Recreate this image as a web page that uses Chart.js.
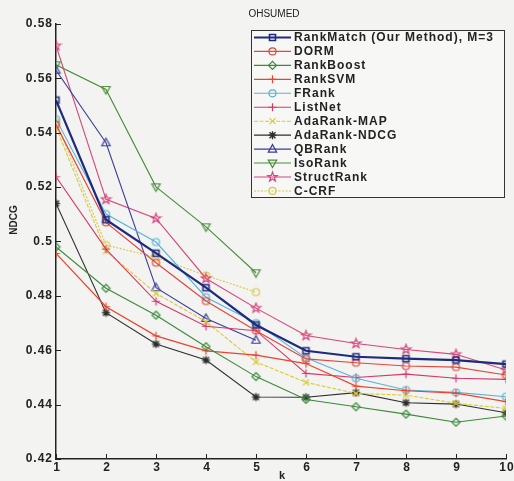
<!DOCTYPE html>
<html><head><meta charset="utf-8">
<script src="https://cdn.jsdelivr.net/npm/chart.js@4/dist/chart.umd.min.js"></script>
<style>html,body{margin:0;padding:0;background:#f3f3f1;}#wrap{width:514px;height:481px;}</style>
</head><body><div id="wrap"><canvas id="c" width="514" height="481"></canvas></div>
<script>
// ---- data ----
const kValues = [1, 2, 3, 4, 5, 6, 7, 8, 9, 10];
const yTickValues = [0.42, 0.44, 0.46, 0.48, 0.5, 0.52, 0.54, 0.56, 0.58];
const chartTitle = 'OHSUMED';
const xTitle = 'k';
const yTitle = 'NDCG';

const rankMatch   = [0.552, 0.508, 0.4957, 0.483, 0.4693, 0.4598, 0.4576, 0.4569, 0.4564, 0.4549];
const dorm        = [0.543, 0.507, 0.4922, 0.4781, 0.4672, 0.4568, 0.4554, 0.4542, 0.4538, 0.4509];
const rankBoost   = [0.498, 0.4828, 0.4729, 0.4613, 0.4503, 0.4419, 0.4392, 0.4365, 0.4335, 0.4358];
const rankSVM     = [0.4956, 0.476, 0.4653, 0.4598, 0.4582, 0.4551, 0.4468, 0.4451, 0.4442, 0.4411];
const fRank       = [0.545, 0.5101, 0.4998, 0.4795, 0.470, 0.4572, 0.4497, 0.4454, 0.4445, 0.4429];
const listNet     = [0.5238, 0.4972, 0.478, 0.4688, 0.4672, 0.4515, 0.4500, 0.4512, 0.4497, 0.4493];
const adaRankMAP  = [0.542, 0.4965, 0.4809, 0.4705, 0.4557, 0.4482, 0.4441, 0.4435, 0.4405, 0.4386];
const adaRankNDCG = [0.514, 0.4738, 0.4623, 0.4564, 0.4428, 0.4427, 0.4444, 0.4407, 0.4402, 0.437];
const qbRank      = [0.563, 0.5363, 0.483, 0.4717, 0.4637];
const isoRank     = [0.565, 0.5559, 0.5201, 0.5054, 0.4885];
const structRank  = [0.572, 0.5155, 0.5085, 0.4864, 0.4755, 0.4654, 0.4625, 0.4603, 0.4585, 0.4527];
const cCRF        = [0.544, 0.4987, 0.4942, 0.4875, 0.4814];

const seriesLabels = ['RankMatch (Our Method), M=3', 'DORM', 'RankBoost', 'RankSVM', 'FRank', 'ListNet',
  'AdaRank-MAP', 'AdaRank-NDCG', 'QBRank', 'IsoRank', 'StructRank', 'C-CRF'];
const seriesValues = [rankMatch, dorm, rankBoost, rankSVM, fRank, listNet, adaRankMAP, adaRankNDCG, qbRank, isoRank, structRank, cCRF];

// ---- styles ----
const seriesStyle = [
  {color: '#1e2a7c', marker: 'square', width: 2.2, dash: []},
  {color: '#e2463c', marker: 'circle', width: 1.2, dash: []},
  {color: '#3a8a3a', marker: 'diamond', width: 1.1, dash: []},
  {color: '#e8452e', marker: 'plus', width: 1.2, dash: []},
  {color: '#5ab2d8', marker: 'circle', width: 1.1, dash: []},
  {color: '#d6396c', marker: 'plus', width: 1.1, dash: []},
  {color: '#d9cb3a', marker: 'x', width: 1.1, dash: [4, 1.5]},
  {color: '#2e2e2e', marker: 'asterisk', width: 1.1, dash: []},
  {color: '#3b3d9c', marker: 'triUp', width: 1.1, dash: []},
  {color: '#4a8c3a', marker: 'triDown', width: 1.1, dash: []},
  {color: '#d8447c', marker: 'pentagram', width: 1.1, dash: []},
  {color: '#d8c83e', marker: 'circle', width: 1.1, dash: [2, 1.5]}
];

function drawMarker(ctx, type, x, y, color) {
  ctx.save();
  ctx.strokeStyle = color; ctx.lineWidth = 1.2; ctx.setLineDash([]);
  ctx.beginPath();
  const r = 3.5;
  switch (type) {
    case 'square': ctx.lineWidth = 1.6; ctx.rect(x - 3, y - 3, 6, 6); break;
    case 'circle': ctx.arc(x, y, r, 0, Math.PI * 2); break;
    case 'diamond': ctx.moveTo(x, y - 4); ctx.lineTo(x + 4, y); ctx.lineTo(x, y + 4); ctx.lineTo(x - 4, y); ctx.closePath(); break;
    case 'plus': ctx.moveTo(x - 4, y); ctx.lineTo(x + 4, y); ctx.moveTo(x, y - 4); ctx.lineTo(x, y + 4); break;
    case 'x': ctx.moveTo(x - 3, y - 3); ctx.lineTo(x + 3, y + 3); ctx.moveTo(x + 3, y - 3); ctx.lineTo(x - 3, y + 3); break;
    case 'asterisk':
      ctx.lineWidth = 1.4;
      ctx.moveTo(x - 4, y); ctx.lineTo(x + 4, y); ctx.moveTo(x, y - 4); ctx.lineTo(x, y + 4);
      ctx.moveTo(x - 3, y - 3); ctx.lineTo(x + 3, y + 3); ctx.moveTo(x + 3, y - 3); ctx.lineTo(x - 3, y + 3); break;
    case 'triUp': ctx.moveTo(x, y - 4.5); ctx.lineTo(x + 4.2, y + 3); ctx.lineTo(x - 4.2, y + 3); ctx.closePath(); break;
    case 'triDown': ctx.moveTo(x, y + 4.5); ctx.lineTo(x + 4.2, y - 3); ctx.lineTo(x - 4.2, y - 3); ctx.closePath(); break;
    case 'pentagram':
      for (let i = 0; i < 10; i++) {
        const a = -Math.PI / 2 + i * Math.PI / 5;
        const rr = i % 2 === 0 ? 5 : 2;
        const px = x + rr * Math.cos(a), py = y + rr * Math.sin(a);
        if (i === 0) ctx.moveTo(px, py); else ctx.lineTo(px, py);
      }
      ctx.closePath(); break;
  }
  ctx.stroke();
  ctx.restore();
}

function markerCanvas(type, color) {
  const c = document.createElement('canvas');
  c.width = 13; c.height = 13;
  drawMarker(c.getContext('2d'), type, 6.5, 6.5, color);
  return c;
}

const datasets = seriesValues.map((vals, i) => {
  const st = seriesStyle[i];
  return {
    label: seriesLabels[i],
    data: vals.map((v, j) => ({x: kValues[j], y: v})),
    borderColor: st.color,
    backgroundColor: st.color,
    borderWidth: st.width,
    borderDash: st.dash,
    pointStyle: markerCanvas(st.marker, st.color),
    pointRadius: 4,
    tension: 0,
    fill: false
  };
});

const FONT = 'bold 12px "Liberation Sans", Arial, sans-serif';
const TEXT = '#222';

const decorPlugin = {
  id: 'decor',
  afterDraw(chart) {
    const ctx = chart.ctx;
    const xs = chart.scales.x, ys = chart.scales.y;
    const ca = chart.chartArea;
    ctx.save();
    // ticks inward
    ctx.strokeStyle = '#222'; ctx.lineWidth = 1;
    ctx.beginPath();
    yTickValues.forEach(v => {
      const py = Math.round(ys.getPixelForValue(v)) + 0.5;
      ctx.moveTo(ca.left, py); ctx.lineTo(ca.left + 5, py);
    });
    kValues.forEach(v => {
      const px = Math.round(xs.getPixelForValue(v)) + 0.5;
      ctx.moveTo(px, ca.bottom); ctx.lineTo(px, ca.bottom - 5);
    });
    ctx.stroke();
    // tick labels
    ctx.fillStyle = TEXT;
    ctx.font = FONT;
    ctx.letterSpacing = '1px';
    ctx.textAlign = 'right'; ctx.textBaseline = 'middle';
    yTickValues.forEach(v => {
      const label = String(Number(v.toFixed(2)));
      ctx.fillText(label, ca.left - 3, ys.getPixelForValue(v));
    });
    ctx.textAlign = 'center'; ctx.textBaseline = 'middle';
    kValues.forEach(v => {
      ctx.fillText(String(v), xs.getPixelForValue(v) + 1, ca.bottom + 9);
    });
    ctx.letterSpacing = '0px';
    // axis titles
    ctx.font = 'bold 11px "Liberation Sans", Arial, sans-serif';
    ctx.fillText(xTitle, (ca.left + ca.right) / 2 + 1, 476);
    ctx.save();
    ctx.translate(14, 220);
    ctx.rotate(-Math.PI / 2);
    ctx.font = 'bold 10px "Liberation Sans", Arial, sans-serif';
    ctx.fillText(yTitle, 0, 0);
    ctx.restore();
    // title
    ctx.font = '10px "Liberation Sans", Arial, sans-serif';
    ctx.fillText(chartTitle, 274, 14);
    // legend
    const lx = 251, ly = 30, lw = 253, lh = 167;
    ctx.fillStyle = '#f7f7f5';
    ctx.fillRect(lx, ly, lw, lh);
    ctx.strokeStyle = '#333'; ctx.lineWidth = 1;
    ctx.strokeRect(lx + 0.5, ly + 0.5, lw, lh);
    ctx.font = FONT; ctx.letterSpacing = '1px';
    ctx.textAlign = 'left';
    seriesLabels.forEach((lab, i) => {
      const st = seriesStyle[i];
      const y = 37.5 + i * 13.95;
      ctx.save();
      ctx.strokeStyle = st.color; ctx.lineWidth = st.width; ctx.setLineDash(st.dash);
      ctx.beginPath(); ctx.moveTo(254, y); ctx.lineTo(291, y); ctx.stroke();
      ctx.restore();
      drawMarker(ctx, st.marker, 272.5, y, st.color);
      ctx.fillStyle = TEXT;
      ctx.fillText(lab, 294, y + 0.5);
    });
    ctx.restore();
  }
};

new Chart(document.getElementById('c'), {
  type: 'line',
  data: {datasets},
  options: {
    responsive: false,
    devicePixelRatio: 1,
    animation: false,
    layout: {padding: {top: 24, right: 8, left: 0, bottom: 0}},
    plugins: {legend: {display: false}, tooltip: {enabled: false}, title: {display: false}},
    scales: {
      x: {
        type: 'linear', min: 1, max: 10,
        ticks: {display: false, stepSize: 1},
        grid: {display: false, drawTicks: false},
        border: {display: true, color: '#222', width: 1.5},
        afterFit: s => { s.height = 22; }
      },
      y: {
        type: 'linear', min: 0.42, max: 0.58,
        ticks: {display: false, stepSize: 0.02},
        grid: {display: false, drawTicks: false},
        border: {display: true, color: '#222', width: 1.5},
        afterFit: s => { s.width = 56; }
      }
    }
  },
  plugins: [decorPlugin]
});
</script>
</body></html>
